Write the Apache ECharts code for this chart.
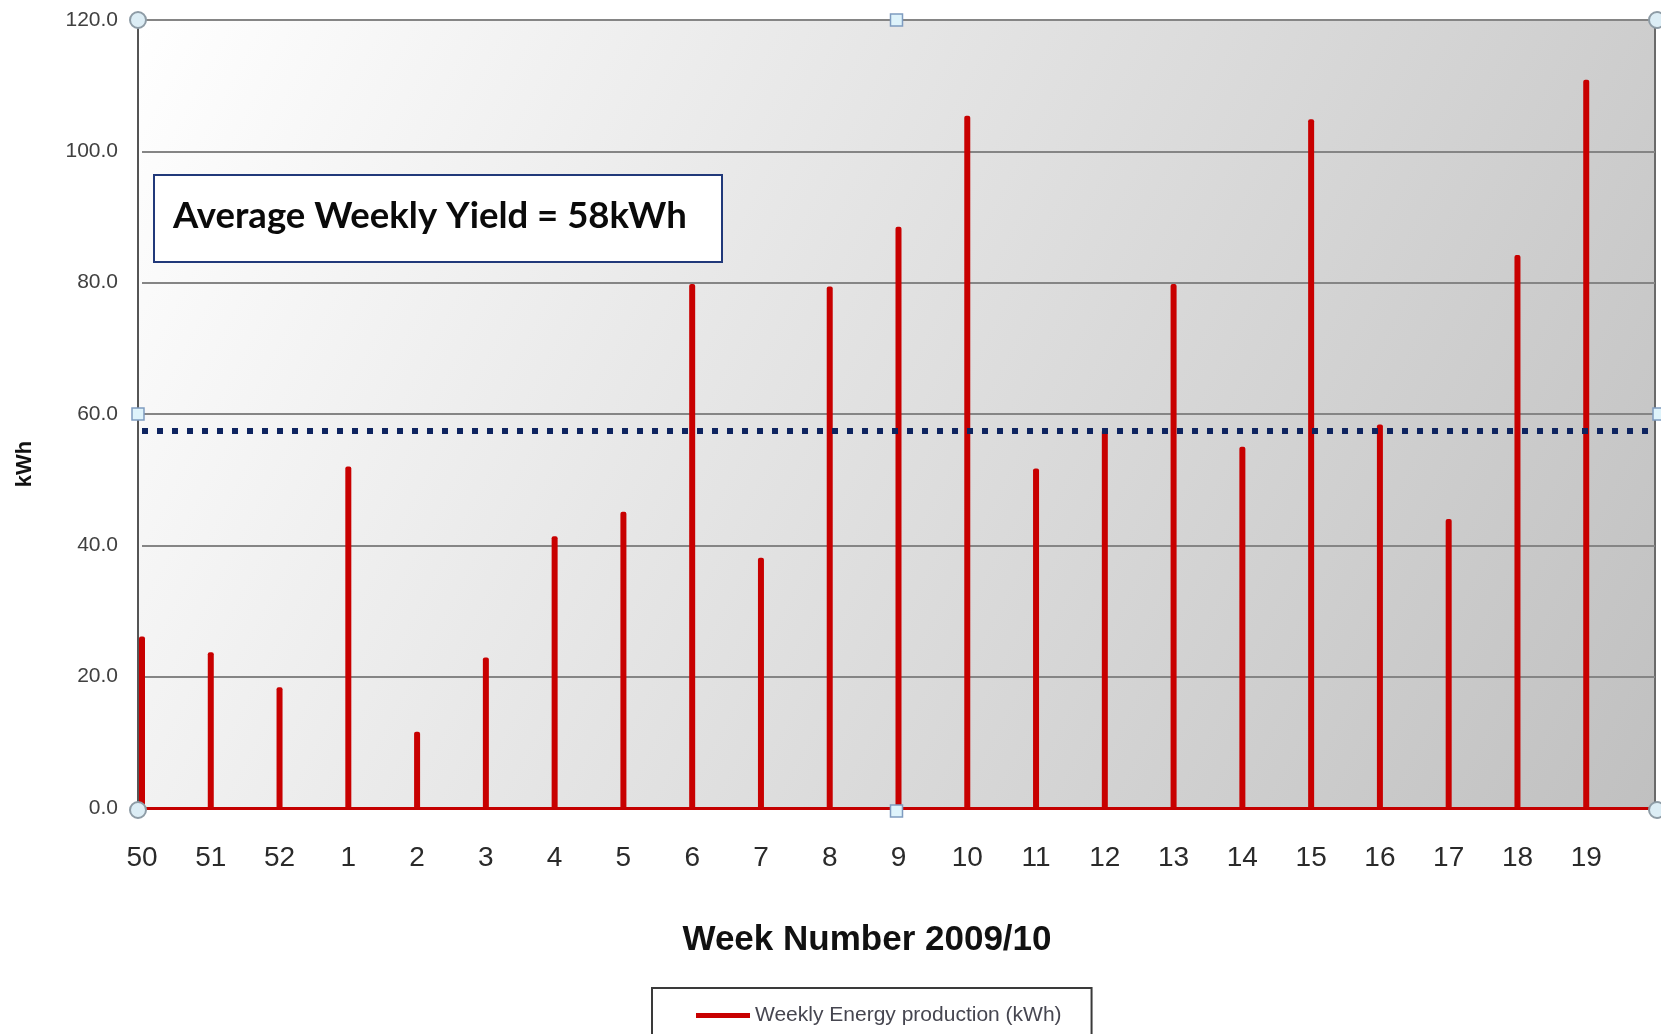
<!DOCTYPE html>
<html>
<head>
<meta charset="utf-8">
<script src="https://cdn.jsdelivr.net/npm/echarts@6/dist/echarts.min.js"></script>
<style>
html,body{margin:0;padding:0;background:#fff;}
#chart{width:1661px;height:1034px;}
</style>
</head>
<body>
<div id="chart"></div>
<script>
// ---- data ----
const weeks = ['50','51','52','1','2','3','4','5','6','7','8','9','10','11','12','13','14','15','16','17','18','19'];
const weeklyEnergy = [26.1, 23.7, 18.4, 52.0, 11.6, 22.9, 41.4, 45.1, 79.8, 38.1, 79.4, 88.5, 105.4, 51.7, 57.6, 79.8, 55.0, 104.9, 58.4, 44.0, 84.2, 110.9];
const averageYield = 57.5;
const yTicks = [0, 20, 40, 60, 80, 100, 120];
const seriesName = 'Weekly Energy production (kWh)';
const boxText = 'Average Weekly Yield = 58kWh';
const xTitle = 'Week Number 2009/10';
const yTitle = 'kWh';

// category axis with a trailing empty slot so stems sit on ticks (boundaryGap false)
const xCats = weeks.concat(['']);
const yData = weeklyEnergy.concat([null]);

const FONT = '"Liberation Sans", Arial, sans-serif';
const chart = echarts.init(document.getElementById('chart'));

const PL = 138, GL = 142, GT = 20, GR = 1655, GB = 808;
const handleCircle = (x, y) => ({
  type: 'circle', shape: {cx: x, cy: y, r: 8}, z: 100,
  style: {fill: '#dcedf5', stroke: '#8e9ca6', lineWidth: 2}
});
const handleSquare = (x, y) => ({
  type: 'rect', shape: {x: x - 6, y: y - 6, width: 12, height: 12}, z: 100,
  style: {fill: '#def3fb', stroke: '#7f9cc0', lineWidth: 1.5}
});

chart.setOption({
  animation: false,
  backgroundColor: '#ffffff',
  grid: {
    left: GL, top: GT, right: 1661 - GR, bottom: 1034 - GB,
    show: false,
    outerBoundsMode: 'none'
  },
  legend: {
    left: 652, top: 988,
    data: [{name: seriesName, icon: 'rect'}],
    itemWidth: 54, itemHeight: 5,
    backgroundColor: '#ffffff',
    borderColor: '#3a3a3a', borderWidth: 2, borderRadius: 0,
    padding: [17, 30, 30, 44],
    textStyle: {fontFamily: FONT, fontSize: 21, color: '#464650'}
  },
  xAxis: {
    type: 'category',
    data: xCats,
    boundaryGap: false,
    axisLine: {show: true, lineStyle: {color: '#c40000', width: 3}},
    axisTick: {show: false},
    splitLine: {show: false},
    axisLabel: {interval: 0, fontFamily: FONT, fontSize: 28, color: '#2a2a2a', margin: 36}
  },
  yAxis: {
    type: 'value',
    min: yTicks[0], max: yTicks[yTicks.length - 1], interval: 20,
    offset: GL - PL,
    axisLine: {show: true, lineStyle: {color: '#555', width: 2}},
    axisTick: {show: false},
    splitLine: {show: true, lineStyle: {color: '#858585', width: 2}},
    axisLabel: {
      fontFamily: FONT, fontSize: 21, color: '#404040', margin: 20,
      formatter: v => v.toFixed(1)
    }
  },
  series: [{
    name: seriesName,
    type: 'bar',
    data: yData,
    barWidth: 6,
    clip: false,
    itemStyle: {color: '#c80000', borderRadius: [2, 2, 0, 0]},
    markLine: {
      silent: true,
      symbol: ['none', 'none'],
      label: {show: false},
      lineStyle: {color: '#0e2460', width: 6, type: [6, 9], opacity: 1},
      data: [{yAxis: averageYield}]
    }
  }],
  graphic: [
    {
      type: 'rect', shape: {x: PL, y: GT, width: GR - PL, height: GB - GT}, z: -10, silent: true,
      style: {
        fill: {
          type: 'linear', x: 0, y: 0, x2: 1, y2: 1,
          colorStops: [{offset: 0, color: '#ffffff'}, {offset: 1, color: '#c0c0c0'}]
        },
        stroke: '#6a6a6a', lineWidth: 2
      }
    },
    {
      type: 'rect', shape: {x: 154, y: 175, width: 568, height: 87}, z: 50,
      style: {fill: '#ffffff', stroke: '#21397a', lineWidth: 2}
    },
    {
      type: 'text', x: 173, y: 216, z: 51,
      style: {text: boxText, font: 'bold 36.5px Lato, "Open Sans", sans-serif', fill: '#0a0a0a', textVerticalAlign: 'middle', textAlign: 'left'}
    },
    {
      type: 'text', x: 867, y: 940, z: 51,
      style: {text: xTitle, font: 'bold 35px "Liberation Sans", Arial, sans-serif', fill: '#111', textAlign: 'center', textVerticalAlign: 'middle'}
    },
    {
      type: 'text', x: 25, y: 464, rotation: Math.PI / 2, z: 51,
      style: {text: yTitle, font: 'bold 22px "Liberation Sans", Arial, sans-serif', fill: '#111', textAlign: 'center', textVerticalAlign: 'middle'}
    },
    handleCircle(PL, GT), handleCircle(GR + 2, GT), handleCircle(PL, GB + 2), handleCircle(GR + 2, GB + 2),
    handleSquare((PL + GR) / 2, GT), handleSquare((PL + GR) / 2, GB + 3),
    handleSquare(PL, 414), handleSquare(GR + 4, 414)
  ]
});
</script>
</body>
</html>
